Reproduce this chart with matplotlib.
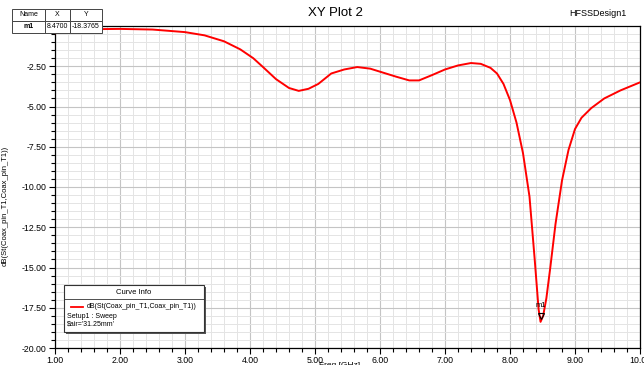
import matplotlib
matplotlib.use("Agg")
import matplotlib.pyplot as plt
from matplotlib.ticker import MultipleLocator, FormatStrFormatter
from matplotlib.patches import Rectangle

plt.rcParams['font.family'] = ['Liberation Sans', 'DejaVu Sans']

# curve values
freq = [1.0, 1.2, 1.5, 2.0, 2.5, 3.0, 3.3, 3.6, 3.85, 4.05, 4.2, 4.4, 4.6,
        4.75, 4.9, 5.05, 5.25, 5.45, 5.65, 5.85, 6.05, 6.25, 6.45, 6.6,
        6.8, 7.0, 7.2, 7.4, 7.55, 7.7, 7.8, 7.9, 8.0, 8.1, 8.2, 8.3, 8.38,
        8.44, 8.47, 8.51, 8.56, 8.62, 8.7, 8.8, 8.9, 9.0, 9.1, 9.25, 9.45,
        9.7, 10.0]
s11 = [-0.45, -0.3, -0.2, -0.18, -0.22, -0.38, -0.58, -0.95, -1.45, -2.0,
       -2.55, -3.3, -3.85, -4.03, -3.9, -3.6, -2.95, -2.7, -2.55, -2.65,
       -2.9, -3.15, -3.38, -3.38, -3.05, -2.7, -2.45, -2.3, -2.35, -2.6,
       -2.95, -3.6, -4.6, -6.0, -7.9, -10.6, -14.5, -17.6, -18.3765, -18.0,
       -16.9, -15.0, -12.3, -9.6, -7.7, -6.4, -5.7, -5.1, -4.5, -4.0, -3.5]

marker_name = "m1"
marker_x = 8.47
marker_y = -18.3765

fig = plt.figure(figsize=(6.44, 3.65), dpi=100)
ax = fig.add_axes([55 / 644, 1 - 348 / 365, 585 / 644, 322 / 365])

ax.plot(freq, s11, color='red', lw=1.4, zorder=3)
ax.plot([marker_x], [marker_y + 0.35], marker='v', ms=5, mfc='none',
        mec='black', mew=0.8, zorder=4)
ax.text(marker_x, marker_y + 0.8, marker_name, fontsize=5.5,
        ha='center', va='bottom', zorder=4)

ax.set_xlim(1, 10)
ax.set_ylim(-20, 0)
ax.xaxis.set_major_locator(MultipleLocator(1))
ax.xaxis.set_minor_locator(MultipleLocator(0.2))
ax.set_yticks([-20, -17.5, -15, -12.5, -10, -7.5, -5, -2.5])
ax.yaxis.set_minor_locator(MultipleLocator(0.5))
ax.xaxis.set_major_formatter(FormatStrFormatter('%.2f'))
ax.yaxis.set_major_formatter(FormatStrFormatter('%.2f'))
ax.grid(which='major', color='#c4c4c4', lw=0.8)
ax.grid(which='minor', color='#e4e4e4', lw=0.7)
ax.set_axisbelow(True)
ax.tick_params(which='both', direction='out', labelsize=6.3, width=0.8,
               pad=2)
ax.tick_params(which='major', length=4)
ax.tick_params(which='minor', length=3)
for sp in ax.spines.values():
    sp.set_linewidth(0.9)

ax.set_ylabel("dB(St(Coax_pin_T1,Coax_pin_T1))", fontsize=5.5, labelpad=2)
ax.yaxis.set_label_coords(-0.08, 0.44)
fig.text(340 / 644, 1 - 369 / 365, "Freq [GHz]", fontsize=6, ha='center',
         va='bottom')

fig.text(335 / 644, 1 - 13 / 365, "XY Plot 2", fontsize=9.5, ha='center',
         va='center')
fig.text(598 / 644, 1 - 13 / 365, "HFSSDesign1", fontsize=6.5,
         ha='center', va='center')

# marker table, top left
cols = [12, 45, 70, 102]
rows = [9, 21, 33]
head = ["Name", "X", "Y"]
vals = [marker_name, "%.4f" % marker_x, "%.4f" % marker_y]
for r0, r1, txt, bold in [(rows[0], rows[1], head, False),
                          (rows[1], rows[2], vals, True)]:
    for i in range(3):
        fig.patches.append(Rectangle((cols[i] / 644, 1 - r1 / 365),
                                     (cols[i + 1] - cols[i]) / 644,
                                     (r1 - r0) / 365, transform=fig.transFigure,
                                     fc='white', ec='#444444', lw=0.7,
                                     zorder=5))
        fig.text((cols[i] + cols[i + 1]) / 2 / 644, 1 - (r0 + r1) / 2 / 365,
                 txt[i], fontsize=5, ha='center', va='center', zorder=6,
                 fontweight='bold' if (bold and i == 0) else 'normal')

# curve info box
bx0, by0, bx1, by1 = 64, 285, 204, 332
fig.patches.append(Rectangle((bx0 / 644 + 0.003, 1 - by1 / 365 - 0.006),
                             (bx1 - bx0) / 644, (by1 - by0) / 365,
                             transform=fig.transFigure, fc='#555555',
                             ec='none', zorder=5))
fig.patches.append(Rectangle((bx0 / 644, 1 - by1 / 365), (bx1 - bx0) / 644,
                             (by1 - by0) / 365, transform=fig.transFigure,
                             fc='white', ec='#333333', lw=0.8, zorder=6))
fig.lines.append(plt.Line2D([bx0 / 644, bx1 / 644],
                            [1 - 299 / 365, 1 - 299 / 365],
                            transform=fig.transFigure, color='#333333',
                            lw=0.6, zorder=7))
fig.text((bx0 + bx1) / 2 / 644, 1 - 292 / 365, "Curve Info", fontsize=5.5,
         ha='center', va='center', zorder=7)
fig.lines.append(plt.Line2D([71 / 644, 83 / 644],
                            [1 - 307 / 365, 1 - 307 / 365],
                            transform=fig.transFigure, color='red',
                            lw=1.3, zorder=7))
fig.text(87 / 644, 1 - 307 / 365, "dB(St(Coax_pin_T1,Coax_pin_T1))",
         fontsize=5, ha='left', va='center', zorder=7)
fig.text(67 / 644, 1 - 316 / 365, "Setup1 : Sweep", fontsize=5,
         ha='left', va='center', zorder=7)
fig.text(67 / 644, 1 - 324 / 365, "$air='31.25mm'", fontsize=5,
         ha='left', va='center', zorder=7)

fig.savefig("out.png", dpi=100)
